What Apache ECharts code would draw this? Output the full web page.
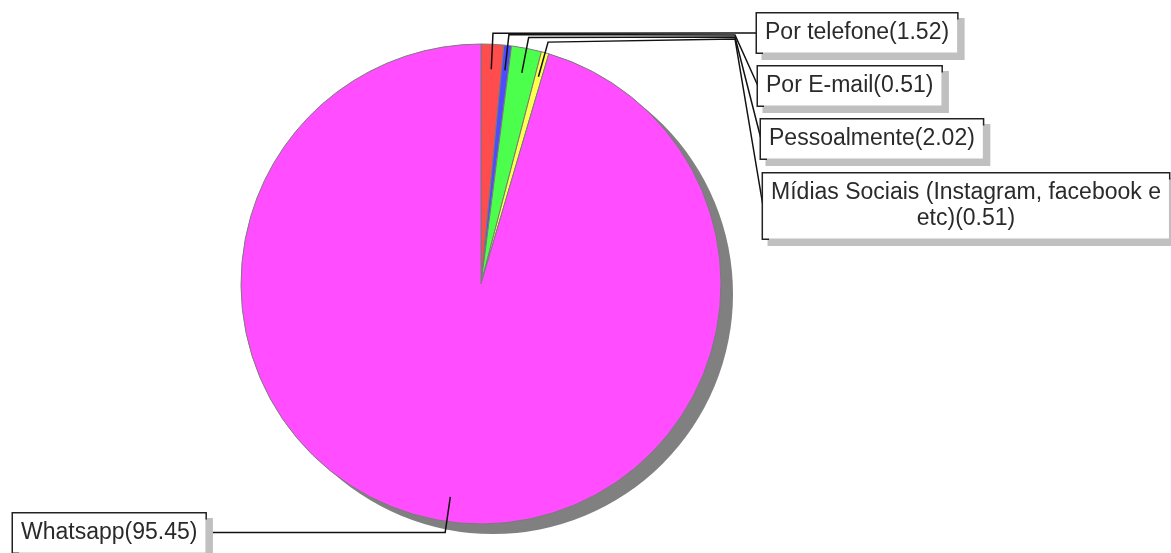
<!DOCTYPE html>
<html>
<head>
<meta charset="utf-8">
<script src="https://cdn.jsdelivr.net/npm/echarts@6/dist/echarts.min.js"></script>
<style>html,body{margin:0;padding:0;background:#fff;}#c{width:1171px;height:553px;}</style>
</head>
<body>
<div id="c"></div>
<script>
const categories = ['Por telefone', 'Por E-mail', 'Pessoalmente', 'Mídias Sociais (Instagram, facebook e etc)', 'Whatsapp'];
const values = [1.52, 0.51, 2.02, 0.51, 95.45];
const colors = ['#ff4d4d', '#4d4dff', '#4dff4d', '#ffff4d', '#ff4dff'];

const CX = 481, CY = 284, R = 240;
// label box anchor positions (x, middle y)
const labelPos = [
  {x: 757, y: 33, align: 'left'},
  {x: 758, y: 86, align: 'left'},
  {x: 761, y: 139, align: 'left'},
  {x: 966, y: 206, align: 'center'},
  {x: 13, y: 533, align: 'left'}
];
const lineEnds = [[757, 33], [758, 86], [761, 139], [763, 206], [205, 0]];
const elbowX = 735;

const chart = echarts.init(document.getElementById('c'), null, {renderer: 'canvas'});
const labelStyle = {
  fontFamily: 'Liberation Sans, Arial, sans-serif',
  fontSize: 23,
  color: '#2a2a2a',
  backgroundColor: '#fff',
  borderColor: '#222',
  borderWidth: 1.5,
  padding: [7, 8, 6, 8],
  shadowColor: '#c0c0c0',
  shadowOffsetX: 6,
  shadowOffsetY: 6,
  shadowBlur: 0,
  lineHeight: 26
};
// wrap long names before their last word, as in the original label
function wrapName(name) {
  if (name.length < 30) return name;
  const k = name.lastIndexOf(' ');
  return name.slice(0, k) + '\n' + name.slice(k + 1);
}
const pieData = categories.map((c, i) => ({name: c, value: values[i], itemStyle: {color: colors[i]}}));
const labelData = categories.map((c, i) => ({name: c, value: values[i]}));
chart.setOption({
  animation: false,
  series: [
    {
      type: 'pie',
      silent: true,
      z: 1,
      center: [CX + 12, CY + 10],
      radius: R,
      startAngle: 90,
      label: {show: false},
      labelLine: {show: false},
      itemStyle: {color: '#808080'},
      data: [{name: 'shadow', value: 1}]
    },
    {
      type: 'pie',
      z: 2,
      silent: true,
      center: [CX, CY],
      radius: R,
      startAngle: 90,
      clockwise: true,
      itemStyle: {borderColor: '#7a7a7a', borderWidth: 1},
      label: {show: false},
      labelLine: {show: false},
      data: pieData
    },
    {
      type: 'pie',
      z: 5,
      silent: true,
      center: [CX, CY],
      radius: R,
      startAngle: 90,
      clockwise: true,
      avoidLabelOverlap: false,
      itemStyle: {color: 'rgba(0,0,0,0)', borderWidth: 0},
      label: Object.assign({
        show: true,
        position: 'outside',
        formatter: p => wrapName(p.name) + '(' + p.value.toFixed(2) + ')'
      }, labelStyle),
      labelLine: {show: true, showAbove: true, length: 10, length2: 10, lineStyle: {color: '#111', width: 1.5}},
      labelLayout: function (params) {
        const i = params.dataIndex;
        const pts = params.labelLinePoints;
        let dx = 0, dy = -1;
        if (pts && pts[0]) {
          dx = pts[0][0] - CX; dy = pts[0][1] - CY;
          const l = Math.sqrt(dx * dx + dy * dy) || 1;
          dx /= l; dy /= l;
        }
        const p0 = [CX + dx * (R - 25), CY + dy * (R - 25)];
        const p1 = [CX + dx * (R + 11), CY + dy * (R + 11)];
        const lp = labelPos[i];
        let line;
        if (i === 4) {
          line = [p0, p1, [lineEnds[i][0], p1[1]]];
        } else {
          line = [p0, p1, [elbowX, 33 + i * 2], lineEnds[i]];
        }
        return {
          x: lp.x,
          y: lp.y,
          align: lp.align,
          verticalAlign: 'middle',
          labelLinePoints: line
        };
      },
      data: labelData
    }
  ]
});
</script>
</body>
</html>
